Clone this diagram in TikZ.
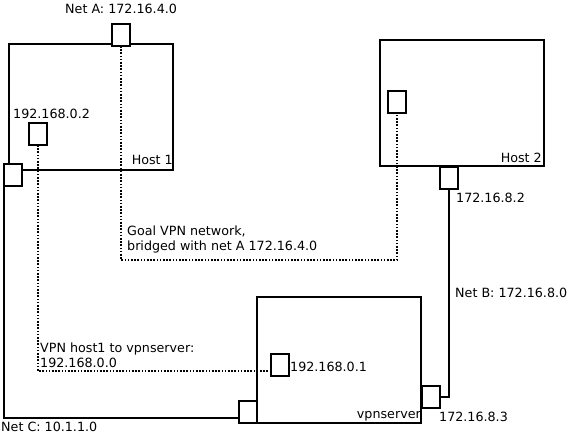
\documentclass[tikz,border=0pt]{standalone}
\usepackage{fontspec}
\setmainfont{DejaVu Sans}
\usetikzlibrary{shapes.misc}
\begin{document}
\begin{tikzpicture}[x=1pt,y=-1pt,
  every node/.style={font=\fontsize{12.7}{15}\selectfont},
  host/.style={draw,line width=2pt,minimum width=164pt,minimum height=126pt,inner sep=0pt,outer sep=0pt},
  iface/.style={draw,fill=white,line width=2pt,chamfered rectangle,chamfered rectangle corners=north west,chamfered rectangle xsep=2pt,chamfered rectangle ysep=2pt,minimum width=18pt,minimum height=22pt,inner sep=0pt,outer sep=0pt},
  lbl/.style={inner sep=0pt},
  wire/.style={line width=2pt},
  vpn/.style={line width=2pt,dash pattern=on 1.6pt off 1.6pt}]
\useasboundingbox (0,0) rectangle (568,434);
% hosts
\node[host] (h1) at (91,107) {};
\node[host] (h2) at (462,103) {};
\node[host] (vs) at (339,360) {};
\node[lbl,anchor=base east] (h1l) at (173,164) {Host 1};
\node[lbl,anchor=base east] (h2l) at (542,162) {Host 2};
\node[lbl,anchor=base east] (vsl) at (421,418) {vpnserver};
% connector corners
\coordinate (g) at (121,260);
\coordinate (v) at (38,371);
\coordinate (c) at (4,418);
% interfaces
\node[iface] (na) at (121,35) {};
\node[iface] (i2) at (38,134) {};
\node[iface] (h1c) at (13,175) {};
\node[iface] (h2i) at (397,102) {};
\node[iface] (hb) at (449,178) {};
\node[iface] (i1) at (280,365) {};
\node[iface] (vc) at (248,412) {};
\node[iface] (vb) at (431,397) {};
\draw[vpn] (na.south) -- (g) -| (h2i.south);
\draw[vpn] (i2.south) -- (v) -- (i1.west |- v);
\draw[wire] (h1c.south west) -- (c) -- (vc.west |- c);
\draw[wire] (hb.south) |- (vb.east);
% labels
\node[lbl,anchor=base west] (lna) at (65,13) {Net A: 172.16.4.0};
\node[lbl,anchor=base west] (li2) at (13,118) {192.168.0.2};
\node[lbl,anchor=base west] (lhb) at (456,202) {172.16.8.2};
\node[lbl,anchor=base west] (lnb) at (455,297) {Net B: 172.16.8.0};
\node[lbl,anchor=base west] (li1) at (290,371) {192.168.0.1};
\node[lbl,anchor=base west] (lvb) at (439,421) {172.16.8.3};
\node[lbl,anchor=base west] (lnc) at (1,431) {Net C: 10.1.1.0};
\node[lbl,anchor=west,align=left] (goal) at (127,239) {Goal VPN network,\\bridged with net A 172.16.4.0};
\node[lbl,anchor=west,align=left] (vh) at (40,355) {VPN host1 to vpnserver:\\192.168.0.0};
\end{tikzpicture}
\end{document}
